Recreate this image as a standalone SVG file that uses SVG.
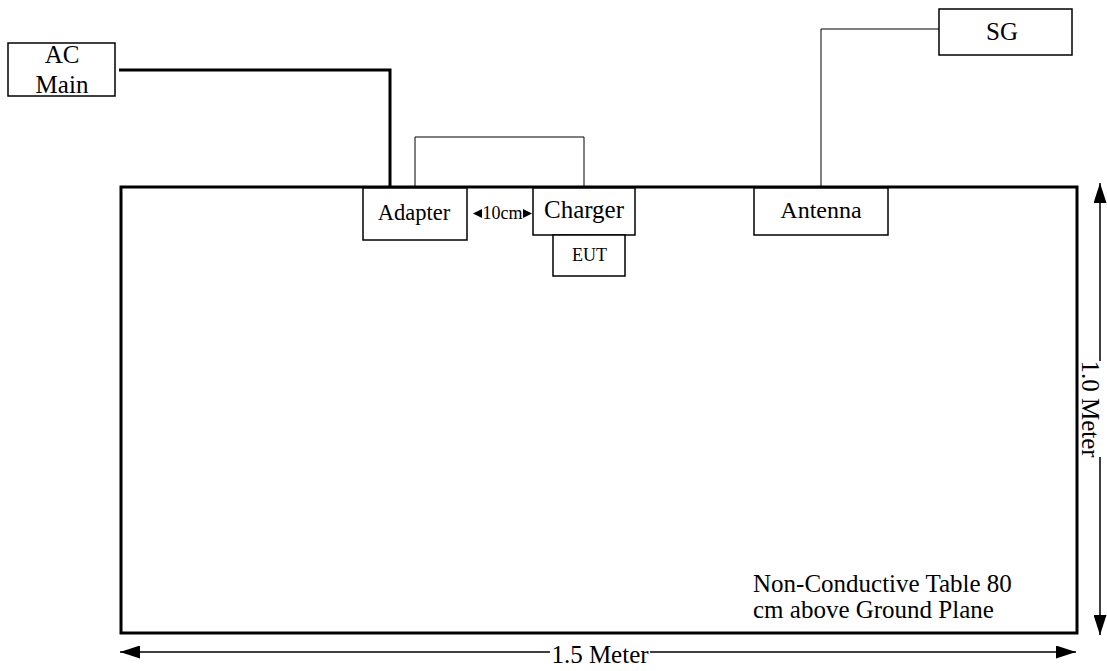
<svg xmlns="http://www.w3.org/2000/svg" width="1107" height="671" viewBox="0 0 1107 671">
<style>
.box{fill:#fff;stroke:#000;stroke-width:1.5}
.t{font-family:"Liberation Serif","Times New Roman",serif;fill:#000;text-anchor:middle}
.ts{font-family:"Liberation Serif","Times New Roman",serif;fill:#000;text-anchor:start}
.thin{fill:none;stroke:#000;stroke-width:1}
.thick{fill:none;stroke:#000;stroke-width:3}
.dim{fill:none;stroke:#000;stroke-width:1.5}
</style>
<defs>
<marker id="big" viewBox="0 0 20 13" refX="20" refY="6.5" markerWidth="20" markerHeight="13" markerUnits="userSpaceOnUse" orient="auto">
<path d="M0,0 L20,6.5 L0,13 Z" fill="#000"/>
</marker>
</defs>
<g id="table">
<rect x="121" y="187" width="956" height="446" fill="#fff" stroke="#000" stroke-width="3"/>
<text class="ts" x="753" y="592" font-size="25">Non-Conductive Table 80</text>
<text class="ts" x="753" y="618" font-size="25">cm above Ground Plane</text>
</g>
<g id="connectors">
<polyline class="thick" points="119,70 390,70 390,187"/>
<polyline class="thin" points="415,187 415,137 584,137 584,187"/>
<polyline class="thin" points="939,29 821,29 821,187"/>
<line class="dim" x1="550" y1="652" x2="120" y2="652" marker-end="url(#big)"/>
<line class="dim" x1="650" y1="652" x2="1076" y2="652" marker-end="url(#big)"/>
<line class="dim" x1="1100" y1="361" x2="1100" y2="183" marker-end="url(#big)"/>
<line class="dim" x1="1100" y1="457" x2="1100" y2="635" marker-end="url(#big)"/>
<text class="t" x="600" y="663" font-size="25">1.5 Meter</text>
<text class="t" transform="translate(1082,409) rotate(90)" font-size="25">1.0 Meter</text>
</g>
<g id="ac-main">
<rect class="box" x="8" y="43" width="107" height="53"/>
<text class="t" x="62" y="63" font-size="25">AC</text>
<text class="t" x="62" y="93" font-size="25">Main</text>
</g>
<g id="adapter">
<rect class="box" x="363" y="188" width="104" height="52"/>
<text class="t" x="414" y="220" font-size="22.5">Adapter</text>
</g>
<g id="gap-label">
<polygon points="473,213.5 482,209 482,218" fill="#000"/>
<polygon points="532,213.5 523,209 523,218" fill="#000"/>
<text class="t" x="502.5" y="219" font-size="18">10cm</text>
</g>
<g id="charger">
<rect class="box" x="533" y="188" width="102" height="47"/>
<text class="t" x="584" y="218" font-size="25">Charger</text>
</g>
<g id="eut">
<rect class="box" x="553" y="235" width="72" height="41"/>
<text class="t" x="589.5" y="261" font-size="18">EUT</text>
</g>
<g id="antenna">
<rect class="box" x="754" y="188" width="134" height="47"/>
<text class="t" x="821" y="218" font-size="24">Antenna</text>
</g>
<g id="sg">
<rect class="box" x="939" y="9" width="133" height="46"/>
<text class="t" x="1002" y="40" font-size="25">SG</text>
</g>
</svg>
